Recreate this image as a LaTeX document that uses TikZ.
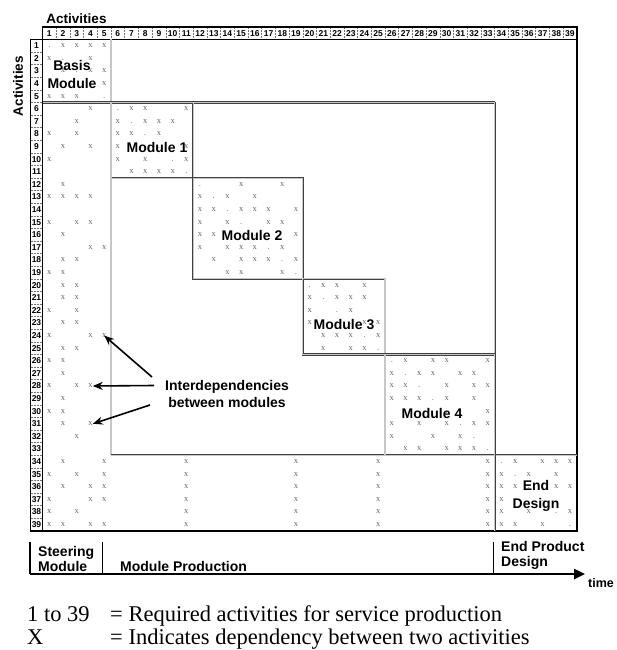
\documentclass[tikz,border=0pt]{standalone}
\usepackage{fontspec}
\setmainfont{Liberation Sans}
\newfontfamily\serifface{Liberation Serif}
\usetikzlibrary{arrows.meta}

\begin{document}
\begin{tikzpicture}[x=1pt,y=-1pt,
  frame/.style={line width=1.5pt,draw=black},
  dbl/.style={draw=black!75,double=black!22,line width=0.55pt,double distance=1.1pt},
  sep/.style={draw=black!55,densely dotted,line width=0.5pt},
  numlbl/.style={font=\bfseries\fontsize{8.5}{9}\selectfont,inner sep=0pt},
  mk/.style={font=\serifface\fontsize{8.5}{8.5}\selectfont,text=black!60,inner sep=0pt,text height=3.8pt,text depth=0pt},
  blocklbl/.style={font=\bfseries\fontsize{14}{18}\selectfont,inner sep=0pt,align=center},
  phaselbl/.style={font=\bfseries\fontsize{14}{15}\selectfont,inner sep=0pt,align=left},
  legendtxt/.style={font=\serifface\fontsize{22.5}{25}\selectfont,inner sep=0pt},
  deparrow/.style={line width=1.6pt,-{Stealth[length=10pt,width=8pt]}}
]
\useasboundingbox (0,0) rectangle (616,650);

% grid geometry
\def\gx{42.5}\def\gy{39.5}\def\cw{13.7}\def\rh{12.6}
\pgfmathsetmacro{\gr}{\gx+39*\cw}
\pgfmathsetmacro{\gb}{\gy+39*\rh}

% axis titles
\node[font=\bfseries\fontsize{13.5}{14}\selectfont,inner sep=0pt] (coltitle) at (76.5,18.5) {Activities};
\node[font=\bfseries\fontsize{13.5}{14}\selectfont,inner sep=0pt,rotate=90] (rowtitle) at (18,86) {Activities};

% header row and row-label column
\foreach \c in {1,...,38} \draw[sep] ({\gx+\c*\cw},27) -- ({\gx+\c*\cw},\gy);
\foreach \r in {1,...,38} \draw[sep] (30.5,{\gy+\r*\rh}) -- (\gx,{\gy+\r*\rh});
\foreach \c in {1,...,39} \node[numlbl] (h-\c) at ({\gx+(\c-0.5)*\cw},33.4) {\c};
\foreach \r in {1,...,39} \node[numlbl] (v-\r) at (36.5,{\gy+(\r-0.5)*\rh}) {\r};
\draw[frame] (\gx,27) rectangle (\gr,\gy);
\draw[frame] (30.5,\gy) rectangle (\gx,\gb);
\draw[frame] (\gr,\gy) -- (\gr,\gb) -- (\gx,\gb);

% module boundaries
\pgfmathsetmacro{\xa}{\gx+5*\cw}
\pgfmathsetmacro{\xb}{\gx+11*\cw}
\pgfmathsetmacro{\xc}{\gx+19*\cw}
\pgfmathsetmacro{\xd}{\gx+25*\cw}
\pgfmathsetmacro{\xe}{\gx+33*\cw}
\pgfmathsetmacro{\ya}{\gy+5*\rh}
\pgfmathsetmacro{\yb}{\gy+11*\rh}
\pgfmathsetmacro{\yc}{\gy+19*\rh}
\pgfmathsetmacro{\yd}{\gy+25*\rh}
\pgfmathsetmacro{\ye}{\gy+33*\rh}
\draw[dbl] (\gx,\ya) -- (\xe,\ya);
\draw[dbl] (\xa,\gy) -- (\xa,\ye);
\draw[dbl] (\xe,\ya) -- (\xe,\gb);
\draw[dbl] (\xa,\ye) -- (\gr,\ye);
\draw[dbl] (\xa,\ya) rectangle (\xb,\yb);
\draw[dbl] (\xb,\yb) rectangle (\xc,\yc);
\draw[dbl] (\xc,\yc) rectangle (\xd,\yd);
\draw[dbl] (\xd,\yd) rectangle (\xe,\ye);

% diagonal
\foreach \r in {1,...,39} \node[mk] (d-\r) at ({\gx+(\r-0.5)*\cw},{\gy+(\r-0.5)*\rh}) {.};

% dependency marks
\foreach \r/\cl in {
  1/{2,3,4,5}, 2/{1,4}, 3/{2,4,5}, 4/{5}, 5/{1,2,3},
  6/{4,7,8,11}, 7/{3,6,8,9,10}, 8/{1,3,6,7,9}, 9/{2,4,6,11}, 10/{1,6,8,11},
  11/{7,8,9,10}, 12/{2,15,18}, 13/{1,2,3,4,12,14,16}, 14/{12,13,15,16,17,19},
  15/{1,3,4,12,14,17,18}, 16/{2,12,13,19}, 17/{4,5,12,14,15,16,18},
  18/{2,3,13,15,16,17,19}, 19/{1,2,14,15,18}, 20/{2,3,21,22,24},
  21/{2,3,20,22,23,24}, 22/{1,3,20,23}, 23/{2,3,20,24,25}, 24/{1,4,5,21,22,23,25},
  25/{2,3,21,23,24}, 26/{1,2,27,29,30,33}, 27/{2,26,28,29,31,32},
  28/{1,3,4,26,27,30,32,33}, 29/{2,26,27,28,30,32}, 30/{1,2,33},
  31/{2,4,26,28,30,32,33}, 32/{3,26,29,31}, 33/{27,28,30,31,32},
  34/{2,5,11,19,25,33,35,37,38,39}, 35/{1,3,5,11,19,25,33,34,36,38},
  36/{2,4,5,11,19,25,33,34,35,38,39}, 37/{1,4,5,11,19,25,33,34},
  38/{1,3,11,19,25,33,34,36,39}, 39/{1,2,4,5,11,19,25,33,34,35,37}}
  \foreach \c in \cl
    \node[mk] (m-\r-\c) at ({\gx+(\c-0.5)*\cw},{\gy+(\r-0.5)*\rh}) {x};

% block labels
\node[blocklbl] (basis) at (72,74) {Basis\\Module};
\node[blocklbl] (mod1) at (157,147.5) {Module 1};
\node[blocklbl] (mod2) at (252,235.5) {Module 2};
\node[blocklbl] (mod3) at (344,325) {Module 3};
\node[blocklbl] (mod4) at (432,413) {Module 4};
\node[blocklbl] (enddesign) at (536,496) {End\\Design};

% interdependency callout
\node[font=\bfseries\fontsize{14}{17}\selectfont,inner sep=0pt,align=center] (dep) at (227,393.5) {Interdependencies\\between modules};
\coordinate (t1) at (152,377);
\coordinate (t2) at (154,385.5);
\coordinate (t3) at (150,405);
\draw[deparrow] (t1) -- (m-24-5.center);
\draw[deparrow] (t2) -- (m-28-4.east);
\draw[deparrow] (t3) -- (m-31-4.east);

% phases along the time axis
\coordinate (axisstart) at (30,574);
\coordinate (axisend) at (585,574);
\draw[line width=1.5pt] (30,542) -- (axisstart);
\draw[line width=0.9pt] (102,542) -- (102,574);
\draw[line width=0.9pt] (493,542) -- (493,574);
\draw[line width=2.4pt,-{Triangle[length=11pt,width=10pt]}] (axisstart) -- (axisend);
\node[font=\bfseries\fontsize{12.5}{13}\selectfont,inner sep=0pt,anchor=west] (time) at (588,583) {time};
\node[phaselbl,anchor=west] (steer) at (38,558.5) {Steering\\Module};
\node[phaselbl,anchor=west] (prod) at (120,566) {Module Production};
\node[phaselbl,anchor=west] (endprod) at (501,555) {End Product\\Design};

% legend
\node[legendtxt,anchor=base west] (k1) at (27,621.5) {1 to 39};
\node[legendtxt,anchor=base west] (v1) at (110,621.5) {= Required activities for service production};
\node[legendtxt,anchor=base west] (k2) at (27,644.5) {X};
\node[legendtxt,anchor=base west] (v2) at (110,644.5) {= Indicates dependency between two activities};
\end{tikzpicture}
\end{document}
